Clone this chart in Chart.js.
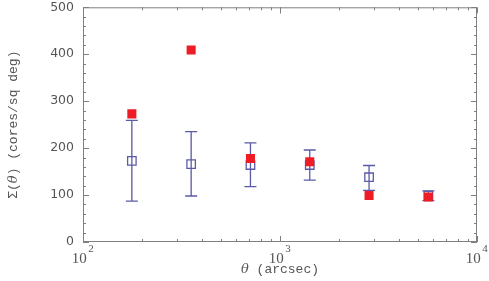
<!DOCTYPE html>
<html>
<head>
<meta charset="utf-8">
<script src="https://cdn.jsdelivr.net/npm/chart.js@4/dist/chart.umd.min.js"></script>
<style>
  html,body{margin:0;padding:0;background:#fff;}
  #wrap{width:489px;height:281px;}
</style>
</head>
<body>
<div id="wrap"><canvas id="c"></canvas></div>
<script>
// angular scale bins (arcsec)
const theta = [177, 354, 708, 1416, 2832, 5664];
// observed surface density (red filled squares)
const sigmaObs = [273, 409, 178, 171, 99, 96];
// mean surface density (open squares) with error bar limits
const sigmaMean = [173, 166, 164, 164, 138, 99];
const errLow = [87, 98, 118, 132, 110, 88];
const errHigh = [259, 235, 211, 196, 163, 109];

const xMajor = [100, 1000, 10000];
const xExp = ['2', '3', '4'];
const yTicks = [0, 100, 200, 300, 400, 500];

const BLUE = '#5a5aa8';
const RED = '#ee1c24';
const FRAME = '#808080';
const TEXT = '#555';

const errorBars = {
  id: 'errorBars',
  beforeDatasetsDraw(chart){
    const {ctx, scales:{x, y}} = chart;
    ctx.save();
    ctx.strokeStyle = BLUE;
    ctx.lineWidth = 1.3;
    theta.forEach((t,i) => {
      const px = x.getPixelForValue(t);
      const yl = y.getPixelForValue(errLow[i]);
      const yh = y.getPixelForValue(errHigh[i]);
      ctx.beginPath();
      ctx.moveTo(px, yl); ctx.lineTo(px, yh);
      ctx.moveTo(px-6, yl); ctx.lineTo(px+6, yl);
      ctx.moveTo(px-6, yh); ctx.lineTo(px+6, yh);
      ctx.stroke();
    });
    ctx.restore();
  }
};

// frame, inward ticks, 10^n labels and axis titles
const frameTicks = {
  id: 'frameTicks',
  afterDraw(chart){
    const {ctx, chartArea:a, scales:{x, y}} = chart;
    ctx.save();
    ctx.strokeStyle = FRAME;
    ctx.lineWidth = 1;
    ctx.strokeRect(a.left+0.5, a.top+0.5, a.right-a.left-1, a.bottom-a.top-1);
    ctx.beginPath();
    for(let v = 0; v <= 500; v += 20){
      const py = Math.round(y.getPixelForValue(v)) + 0.5;
      const len = v % 100 === 0 ? 6 : 3;
      ctx.moveTo(a.left, py); ctx.lineTo(a.left+len, py);
      ctx.moveTo(a.right, py); ctx.lineTo(a.right-len, py);
    }
    for(let d = 100; d < 10000; d *= 10){
      for(let m = 1; m <= 10; m++){
        const px = Math.round(x.getPixelForValue(d*m)) + 0.5;
        const len = (m === 1 || m === 10) ? 6 : 3;
        ctx.moveTo(px, a.bottom); ctx.lineTo(px, a.bottom-len);
        ctx.moveTo(px, a.top); ctx.lineTo(px, a.top+len);
      }
    }
    ctx.stroke();

    // x labels: 10 with raised exponent
    ctx.fillStyle = TEXT;
    ctx.textBaseline = 'alphabetic';
    ctx.textAlign = 'left';
    xMajor.forEach((v,i) => {
      const px = x.getPixelForValue(v);
      ctx.font = '15px "Liberation Serif"';
      const wb = ctx.measureText('10').width;
      ctx.font = '11px "Liberation Serif"';
      const we = ctx.measureText(xExp[i]).width;
      const x0 = px - (wb + we)/2 - 1;
      ctx.font = '15px "Liberation Serif"';
      ctx.fillText('10', x0, a.bottom + 21);
      ctx.font = '11px "Liberation Serif"';
      ctx.fillText(xExp[i], x0 + wb + 1.5, a.bottom + 10);
    });

    // x title
    const cx = (a.left + a.right)/2;
    const rest = ' (arcsec)';
    ctx.font = 'italic 13px "DejaVu Serif"';
    const wt = ctx.measureText('\u03b8').width;
    ctx.font = '13px "Liberation Mono"';
    const wr = ctx.measureText(rest).width;
    const sx = cx - (wt + wr)/2;
    ctx.font = 'italic 13px "DejaVu Serif"';
    ctx.fillText('\u03b8', sx, a.bottom + 31);
    ctx.font = '13px "Liberation Mono"';
    ctx.fillText(rest, sx + wt, a.bottom + 31);

    // y title, rotated
    const cy = (a.top + a.bottom)/2;
    ctx.translate(17, cy);
    ctx.rotate(-Math.PI/2);
    const parts = [
      ['13px "Liberation Mono"', '\u03a3('],
      ['italic 13px "DejaVu Serif"', '\u03b8'],
      ['13px "Liberation Mono"', ') (cores/sq deg)']
    ];
    let total = 0;
    parts.forEach(p => { ctx.font = p[0]; total += ctx.measureText(p[1]).width; });
    let tx = -total/2;
    parts.forEach(p => { ctx.font = p[0]; ctx.fillText(p[1], tx, 0); tx += ctx.measureText(p[1]).width; });
    ctx.restore();
  }
};

new Chart(document.getElementById('c'), {
  type: 'scatter',
  data: {
    datasets: [
      {
        label: 'mean',
        data: theta.map((t,i) => ({x:t, y:sigmaMean[i]})),
        pointStyle: 'rect',
        radius: 6,
        borderColor: BLUE,
        backgroundColor: 'rgba(0,0,0,0)',
        borderWidth: 1.3,
        order: 2
      },
      {
        label: 'observed',
        data: theta.map((t,i) => ({x:t, y:sigmaObs[i]})),
        pointStyle: 'rect',
        radius: 6.4,
        borderColor: RED,
        backgroundColor: RED,
        borderWidth: 0,
        order: 1
      }
    ]
  },
  options: {
    responsive: true,
    maintainAspectRatio: false,
    animation: false,
    layout: { padding: { top: 5, right: 12, left: 0, bottom: 0 } },
    plugins: { legend: { display: false }, tooltip: { enabled: false } },
    scales: {
      x: {
        type: 'logarithmic',
        min: 100, max: 10000,
        afterFit: s => { s.height = 39; s.paddingLeft = 0; s.paddingRight = 0; },
        grid: { display: false, drawTicks: false },
        border: { display: false },
        ticks: { display: false }
      },
      y: {
        min: 0, max: 500,
        afterBuildTicks: s => { s.ticks = yTicks.map(v => ({value:v})); },
        afterFit: s => { s.width = 83; s.paddingTop = 0; s.paddingBottom = 0; },
        grid: { display: false, drawTicks: false },
        border: { display: false },
        ticks: {
          padding: 9, color: TEXT,
          font: { family: 'DejaVu Sans', size: 12.5 }
        }
      }
    }
  },
  plugins: [errorBars, frameTicks]
});
</script>
</body>
</html>
